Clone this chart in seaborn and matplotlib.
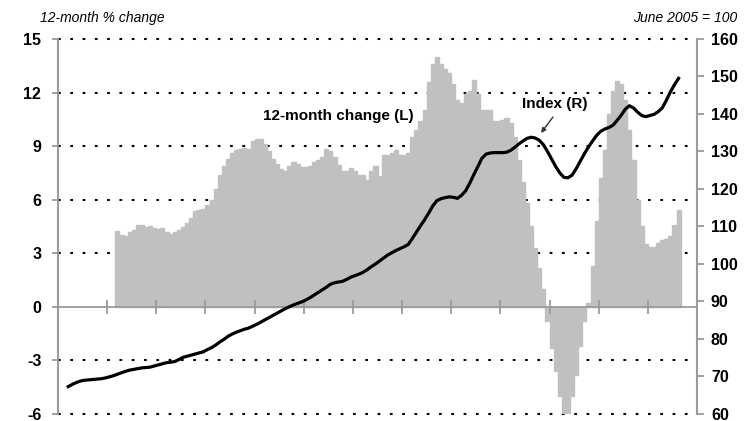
import numpy as np
import pandas as pd
import seaborn as sns
import matplotlib.pyplot as plt

# meses contados a partir de jan/1999 (0 = jan/1999)
inicio_var = 14     # mar/2000
var_12m = [
    4.25, 4.05, 3.95, 4.2, 4.3, 4.6, 4.6, 4.45, 4.55, 4.4,                 # 2000
    4.35, 4.4, 4.2, 4.1, 4.2, 4.3, 4.45, 4.7, 5.0, 5.35, 5.45, 5.5,       # 2001
    5.7, 6.0, 6.6, 7.4, 7.9, 8.3, 8.6, 8.8, 8.85, 8.9, 8.85, 9.3,         # 2002
    9.4, 9.4, 9.1, 8.7, 8.3, 8.0, 7.7, 7.6, 7.9, 8.1, 8.0, 7.85,          # 2003
    7.85, 7.9, 8.1, 8.2, 8.4, 8.85, 8.7, 8.4, 7.95, 7.6, 7.6, 7.8,        # 2004
    7.6, 7.4, 7.4, 7.1, 7.6, 7.9, 7.3, 8.5, 8.5, 8.6, 8.8, 8.5,           # 2005
    8.5, 8.6, 9.5, 9.9, 10.4, 11.0, 12.6, 13.6, 14.0, 13.6, 13.3, 13.1,   # 2006
    12.5, 11.6, 11.4, 11.9, 12.1, 12.7, 11.9, 11.0, 11.0, 11.0, 10.4, 10.4,  # 2007
    10.45, 10.6, 10.3, 9.5, 8.2, 7.0, 5.8, 4.5, 3.3, 2.2, 1.0, -0.8,      # 2008
    -2.3, -3.6, -5.0, -6.1, -6.1, -5.0, -3.8, -2.2, -0.8, 0.2, 2.3, 4.8,  # 2009
    7.2, 8.8, 10.8, 12.1, 12.65, 12.5, 11.6, 9.9, 8.2, 6.0, 4.5, 3.5,     # 2010
    3.35, 3.35, 3.6, 3.75, 3.8, 3.95, 4.6, 5.4,                           # 2011
]

inicio_indice = 2   # mar/1999
indice = [
    67.3, 67.9, 68.4, 68.8, 69.0, 69.1, 69.2, 69.3, 69.4, 69.6,            # 1999
    69.9, 70.2, 70.6, 71.0, 71.4, 71.7, 71.9, 72.1, 72.3, 72.4, 72.5, 72.8,  # 2000
    73.1, 73.4, 73.7, 73.8, 74.0, 74.5, 75.1, 75.4, 75.7, 76.0, 76.3, 76.6,  # 2001
    77.2, 77.7, 78.4, 79.2, 79.9, 80.7, 81.3, 81.8, 82.2, 82.6, 82.9, 83.4,  # 2002
    83.9, 84.5, 85.1, 85.7, 86.3, 86.9, 87.5, 88.1, 88.6, 89.1, 89.5, 89.9,  # 2003
    90.4, 91.0, 91.7, 92.4, 93.1, 93.8, 94.6, 95.0, 95.2, 95.4, 95.9, 96.5,  # 2004
    96.9, 97.3, 97.8, 98.5, 99.3, 100.0, 100.8, 101.6, 102.4, 103.0, 103.6, 104.1,  # 2005
    104.6, 105.2, 106.8, 108.5, 110.2, 111.8, 113.6, 115.5, 116.9, 117.4, 117.7, 117.9,  # 2006
    117.8, 117.5, 118.3, 119.5, 121.5, 123.8, 126.0, 128.2, 129.3, 129.6, 129.7, 129.7,  # 2007
    129.7, 129.8, 130.3, 131.1, 132.0, 132.8, 133.5, 133.8, 133.6, 133.0, 131.8, 130.0,  # 2008
    128.0, 126.0, 124.3, 123.1, 123.0, 123.7, 125.4, 127.4, 129.4, 131.2, 132.8, 134.3,  # 2009
    135.4, 136.0, 136.4, 137.0, 138.3, 139.7, 141.3, 142.2, 141.6, 140.5, 139.6, 139.3,  # 2010
    139.6, 139.9, 140.6, 141.6, 143.6, 145.9, 147.8, 149.5,                # 2011
]

ticks_esq = [-6, -3, 0, 3, 6, 9, 12, 15]
ticks_dir = [60, 70, 80, 90, 100, 110, 120, 130, 140, 150, 160]
grade = [-6, -3, 3, 6, 9, 12, 15]

cinza_barra = '#c0c0c0'
cinza_eixo = '#9a9a9a'

df_var = pd.DataFrame({'mes': np.arange(inicio_var, inicio_var + len(var_12m)) + 0.5,
                       'var': var_12m})
df_ind = pd.DataFrame({'mes': np.arange(inicio_indice, inicio_indice + len(indice)) + 0.5,
                       'indice': indice})

plt.rcParams['font.family'] = ['Liberation Sans', 'DejaVu Sans']

fig = plt.figure(figsize=(7.5, 4.21), dpi=100)
ax = fig.add_axes([58 / 750, 1 - 414 / 421, (697 - 58) / 750, (414 - 39) / 421])

# linhas pontilhadas de grade (sem o zero)
for g in grade:
    ax.axhline(g, color='black', lw=1.5, ls=(0, (1.3, 4.6)), zorder=0.5, clip_on=False)

sns.barplot(data=df_var, x='mes', y='var', native_scale=True, width=1.0,
            color=cinza_barra, saturation=1, linewidth=1.0, edgecolor=cinza_barra,
            errorbar=None, ax=ax, zorder=1)

ax.set_xlim(0, 156)
ax.set_ylim(-6, 15)
ax.set_yticks(ticks_esq)
ax.set_yticklabels([str(t) for t in ticks_esq], fontsize=11.5, fontweight='bold')
ax.set_xticks(range(12, 145, 12))
ax.set_xlabel('')
ax.set_ylabel('')
ax.tick_params(axis='x', direction='inout', length=10, width=1.3, color=cinza_eixo,
               labelbottom=False)
ax.tick_params(axis='y', direction='out', length=4, width=1.3, color=cinza_eixo, pad=8)

ax.spines['top'].set_visible(False)
ax.spines['right'].set_visible(False)
ax.spines['bottom'].set_position(('data', 0))
ax.spines['bottom'].set_color(cinza_eixo)
ax.spines['bottom'].set_linewidth(1.3)
ax.spines['bottom'].set_zorder(3)
ax.spines['left'].set_color(cinza_eixo)
ax.spines['left'].set_linewidth(1.5)

ax2 = ax.twinx()
sns.lineplot(data=df_ind, x='mes', y='indice', color='black', lw=2.3, ax=ax2)
ax2.set_xlim(0, 156)
ax2.set_ylim(60, 160)
ax2.set_yticks(ticks_dir)
ax2.set_yticklabels([str(t) for t in ticks_dir], fontsize=11.5, fontweight='bold')
ax2.set_ylabel('')
ax2.tick_params(axis='y', direction='out', length=5, width=1.3, color=cinza_eixo, pad=5)
for lado in ['top', 'bottom', 'left']:
    ax2.spines[lado].set_visible(False)
ax2.spines['right'].set_color(cinza_eixo)
ax2.spines['right'].set_linewidth(1.5)

# textos
fig.text(40 / 750, 1 - 18 / 421, '12-month % change', fontsize=10, style='italic',
         ha='left', va='center')
fig.text(737 / 750, 1 - 18 / 421, 'June 2005 = 100', fontsize=10, style='italic',
         ha='right', va='center')
fig.text(263 / 750, 1 - 116 / 421, '12-month change (L)', fontsize=11, fontweight='bold',
         ha='left', va='center')
fig.text(522 / 750, 1 - 104 / 421, 'Index (R)', fontsize=11, fontweight='bold',
         ha='left', va='center')
ax2.annotate('', xy=(541 / 750, 1 - 133 / 421), xycoords='figure fraction',
             xytext=(553 / 750, 1 - 117 / 421), textcoords='figure fraction',
             arrowprops=dict(arrowstyle='-|>', color='#333333', lw=1.0,
                             mutation_scale=7, shrinkA=0, shrinkB=0))

fig.savefig('out.png', dpi=100)
